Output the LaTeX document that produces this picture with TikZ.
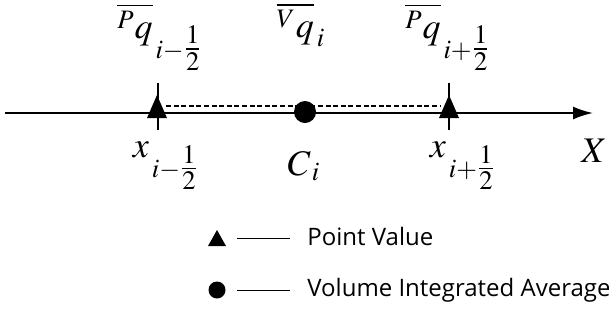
\documentclass[tikz,border=0pt]{standalone}
\usepackage{amsmath}
\usepackage{mathptmx}
\usepackage{fontspec}
\setmainfont{Liberation Serif}
\setsansfont{Open Sans}
\usepackage{tikz}
\usetikzlibrary{arrows.meta,shapes.geometric,positioning}

\begin{document}
\begin{tikzpicture}[x=0.5pt, y=-0.5pt, >={Latex[length=10pt,width=6.5pt]},
    volavg/.style={circle, fill, inner sep=0pt, minimum size=11pt},
    lbl/.style={inner sep=0pt, font=\fontsize{18}{22}\selectfont},
    legtext/.style={anchor=west, inner sep=0pt, font=\sffamily\fontsize{12}{14}\selectfont}]

    \useasboundingbox (0,0) rectangle (609,328);

    % Ось
    \coordinate (xl) at (5,113);
    \coordinate (xr) at (593,113);
    \draw[line width=1pt, ->] (xl) -- (xr);

    % Границы ячейки
    \coordinate (tl1) at (158,83);
    \coordinate (tl2) at (158,130);
    \coordinate (tr1) at (449,83);
    \coordinate (tr2) at (449,130);
    \draw[line width=1pt] (tl1) -- (tl2);
    \draw[line width=1pt] (tr1) -- (tr2);

    % Пунктир
    \coordinate (dl) at (166,106);
    \coordinate (dr) at (441,106);
    \draw[line width=1.4pt, dash pattern=on 2.5pt off 1.3pt] (dl) -- (dr);

    % Точки (треугольники -- точечные значения)
    \coordinate (pl) at (157,118);
    \coordinate (pr) at (449,118);
    \fill (pl) ++(-10,0) -- ++(20,0) -- ++(-10,-23) -- cycle;
    \fill (pr) ++(-10,0) -- ++(20,0) -- ++(-10,-23) -- cycle;
    \node[volavg] (ci) at (305,112) {};

    % Подписи сверху
    \node[lbl] (qpl) at (160,37) {$\overline{{}^{P}q}_{\,i-\tfrac{1}{2}}$};
    \node[lbl] (qv) at (301,25) {$\overline{{}^{V}q}_{\,i}$};
    \node[lbl] (qpr) at (448,37) {$\overline{{}^{P}q}_{\,i+\tfrac{1}{2}}$};

    % Подписи снизу
    \node[lbl] (xm) at (166,166) {$x_{\,i-\tfrac{1}{2}}$};
    \node[lbl] (cc) at (304,166) {$C_{\,i}$};
    \node[lbl] (xp) at (463,166) {$x_{\,i+\tfrac{1}{2}}$};
    \node[lbl] (ax) at (594,151) {$X$};

    % Легенда
    \coordinate (lp) at (217,246);
    \fill (lp) ++(-9,0) -- ++(18,0) -- ++(-9,-16) -- cycle;
    \coordinate (lp1) at (237,238);
    \coordinate (lp2) at (290,238);
    \draw[line width=0.5pt] (lp1) -- (lp2);
    \node[legtext] (tp) at (307,236) {Point Value};

    \node[volavg, minimum size=8.5pt] (lv) at (217,290) {};
    \coordinate (lv1) at (237,290);
    \coordinate (lv2) at (290,290);
    \draw[line width=0.5pt] (lv1) -- (lv2);
    \node[legtext] (tv) at (307,290) {Volume Integrated Average};

\end{tikzpicture}
\end{document}
